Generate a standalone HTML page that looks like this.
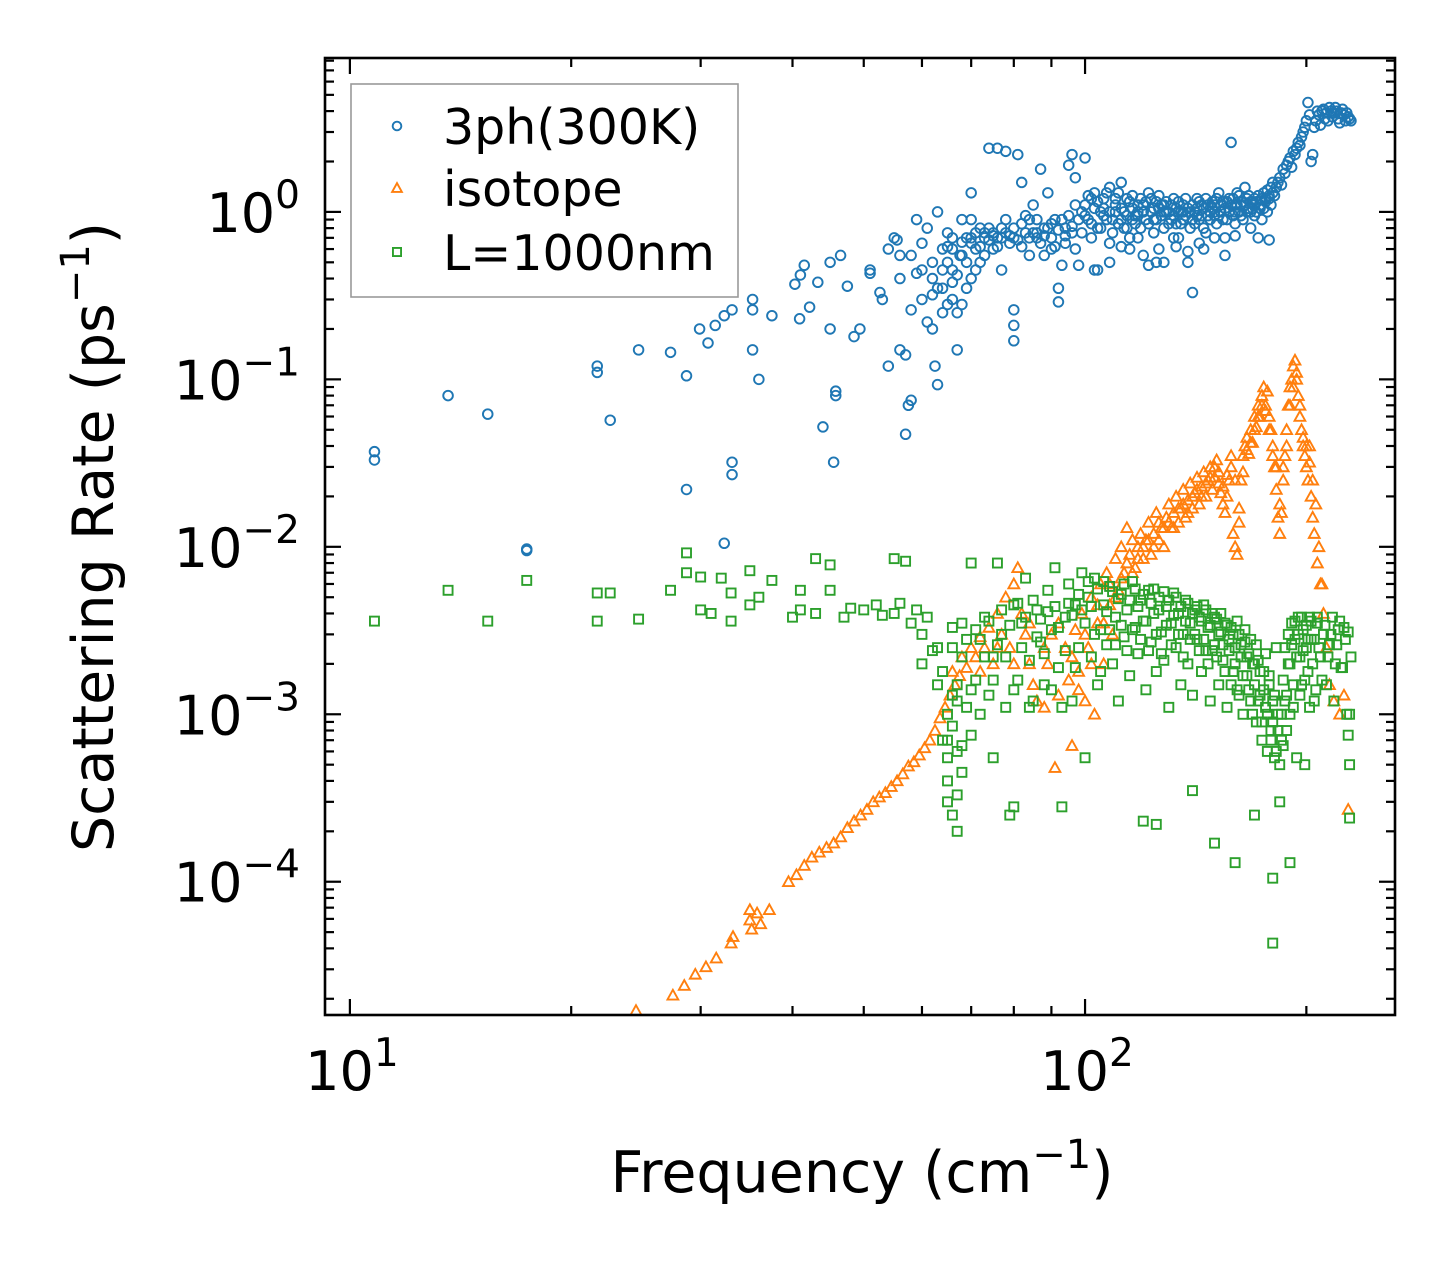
<!DOCTYPE html>
<html><head><meta charset="utf-8"><style>
html,body{margin:0;padding:0;background:#fff;}
svg{display:block;font-family:"DejaVu Sans","Liberation Sans",sans-serif;}
</style></head><body>
<svg id="chart" width="1455" height="1265" viewBox="0 0 1455 1265">
<rect x="0" y="0" width="1455" height="1265" fill="#fff"/>
<g id="marks"></g>
<g id="axes"></g>
</svg>
<script>
const xDomain=[9.25,264];
const yDomain=[1.6e-5,8.3];
const xTickDecades=[1,2];
const yTickDecades=[0,-1,-2,-3,-4];
const threeph=[[10.8,0.037],[10.8,0.033],[13.6,0.08],[15.4,0.062],[17.4,0.0097],[17.4,0.0095],[21.7,0.12],[21.7,0.11],[22.6,0.057],[24.7,0.15],[27.3,0.145],[28.7,0.105],[28.7,0.022],[29.9,0.2],[30.7,0.165],[31.4,0.21],[32.3,0.24],[33.1,0.26],[33.1,0.032],[33.1,0.027],[32.3,0.0105],[35.3,0.3],[35.3,0.26],[35.3,0.15],[36,0.1],[37.5,0.24],[40.3,0.37],[40.9,0.23],[41.5,0.48],[42.2,0.27],[41,0.42],[43.3,0.38],[44,0.052],[45,0.5],[45,0.2],[45.8,0.085],[45.8,0.08],[45.5,0.032],[46.5,0.55],[47.5,0.36],[48.5,0.18],[49.4,0.2],[51,0.43],[51,0.45],[52.6,0.33],[53,0.3],[54,0.6],[54,0.12],[55,0.7],[55.5,0.68],[56,0.55],[56,0.15],[57,0.14],[57.5,0.07],[57,0.047],[58,0.075],[58,0.26],[59,0.43],[59,0.9],[60,0.65],[60,0.3],[61,0.8],[61,0.22],[62,0.2],[62,0.5],[62.5,0.12],[63,0.093],[63,1.0],[64,0.6],[64,0.35],[65,0.28],[65,0.75],[66,0.45],[67,0.25],[67,0.15],[67.6,0.55],[68,0.9],[69,0.35],[70,0.7],[70,1.3],[71,0.6],[72,0.5],[72,0.8],[73,0.75],[74,2.4],[75,0.6],[76,2.4],[77,0.45],[78,0.9],[78,2.3],[80,0.7],[80,0.26],[80,0.21],[80,0.17],[81,2.2],[82,1.5],[83,0.75],[84,0.55],[85,1.1],[86,0.7],[87,1.8],[88,0.55],[89,1.3],[90,0.6],[91,0.9],[92,0.35],[92,0.29],[93,0.48],[94,0.8],[95,1.9],[96,2.2],[97,1.6],[98,0.48],[99,1.0],[100,2.1],[102,0.7],[104,0.45],[106,1.2],[108,0.65],[110,1.0],[112,1.5],[114,0.8],[116,0.9],[118,1.1],[120,0.55],[122,1.3],[124,0.9],[126,0.6],[128,1.1],[130,0.85],[132,1.2],[134,0.7],[136,1.0],[138,0.5],[140,0.33],[140,0.9],[142,1.2],[145,0.8],[148,1.0],[150,0.95],[152,1.3],[155,0.7],[158,2.6],[160,1.1],[162,1.0],[165,1.4],[168,1.0],[170,0.95],[172,0.7],[175,1.05],[178,1.2],[180,1.3],[183,1.5],[186,1.8],[189,2.0],[192,2.3],[195,2.6],[198,3.0],[200,3.5],[201,4.5],[203,2.0],[205,3.2],[208,3.8],[210,4.0],[212,3.6],[215,4.2],[218,3.9],[220,4.0],[222,3.4],[225,3.8],[228,3.7],[230,3.5],
[100,1.1],[101,0.9],[103,1.3],[104,0.8],[105,1.0],[107,0.9],[108,1.4],[109,0.75],[110,1.2],[111,0.85],[113,1.0],[114,1.2],[115,0.7],[116,1.05],[117,0.95],[119,0.8],[120,1.1],[121,0.9],[123,1.0],[124,0.75],[125,1.15],[127,0.95],[128,0.8],[129,1.0],[131,0.9],[132,0.7],[133,1.05],[135,0.85],[136,1.1],[137,0.95],[139,0.8],[141,1.0],[143,0.9],[144,1.1],[146,0.75],[147,0.95],[149,1.05],[151,0.85],[153,1.0],[154,1.15],[156,0.9],[157,1.2],[159,0.95],[161,1.3],[163,1.1],[164,0.9],[166,1.2],[167,1.05],[169,1.15],[171,1.0],[173,1.1],[174,0.9],[176,1.2],[177,1.0],[179,1.1],[181,1.25],[182,1.4],[184,1.6],[185,1.45],[187,1.7],[188,1.9],[190,2.1],[191,1.85],[193,2.2],[194,2.4],[196,2.5],[197,2.8],[199,3.2],[202,3.8],[204,2.2],[206,3.5],[207,4.0],[209,3.3],[211,4.1],[213,3.9],[214,3.5],[216,4.0],[217,3.7],[219,4.2],[221,3.6],[223,3.9],[224,4.1],[226,3.5],[227,3.9],[229,3.6],
[62,0.4],[63,0.35],[64,0.45],[65,0.5],[66,0.38],[66,0.6],[68,0.55],[69,0.7],[70,0.65],[71,0.75],[73,0.7],[74,0.68],[75,0.75],[76,0.7],[77,0.8],[79,0.65],[82,0.85],[84,0.9],[86,0.75],[88,0.8],[90,0.7],[94,0.65],[96,0.75],[97,0.6],[102,1.2],[106,0.95],[112,0.9],[118,0.95],[126,1.05],[134,1.0],[142,0.95],[150,1.1],[160,0.85],[170,1.1],[112,0.62],[118,0.7],[125,0.5],[145,0.6],[155,0.55],[168,0.8],[178,0.68],
[65,0.62],[66,0.7],[67,0.42],[68,0.66],[69,0.5],[70,0.9],[71,0.45],[72,0.62],[73,0.55],[74,0.8],[75,0.72],[76,0.62],[77,0.7],[78,0.75],[79,0.72],[80,0.8],[81,0.68],[82,0.62],[83,0.95],[84,0.7],[85,0.75],[86,0.9],[87,0.65],[88,0.72],[89,0.8],[90,0.85],[91,0.62],[92,0.78],[93,0.9],[94,0.72],[95,0.95],[96,0.82],[97,1.1],[98,0.9],[99,0.75],[66,0.3],[68,0.28],[70,0.4],[64,0.25],[62,0.32],[60,0.45],[58,0.55],[56,0.4],
[100,0.95],[101,1.25],[102,0.85],[103,1.05],[104,1.15],[105,0.8],[106,1.05],[107,1.3],[108,1.0],[109,0.9],[110,1.1],[111,1.3],[112,1.05],[113,0.8],[114,0.95],[115,1.15],[116,1.25],[117,0.85],[118,1.0],[119,1.2],[120,1.0],[121,1.15],[122,0.85],[123,1.2],[124,1.05],[125,0.9],[126,1.25],[127,1.1],[128,1.0],[129,1.15],[130,1.0],[131,1.1],[132,0.95],[133,0.85],[134,1.15],[135,1.0],[136,0.9],[137,1.2],[138,1.05],[139,1.0],[140,1.1],[141,0.85],[142,1.05],[143,1.15],[144,0.95],[145,1.05],[146,1.2],[147,1.1],[148,0.9],[149,1.15],[150,1.0],[151,1.2],[152,0.95],[153,1.1],[154,0.9],[155,1.05],[156,1.15],[157,1.0],[158,1.1],[159,1.2],[160,1.0],[161,1.1],[162,1.25],[163,0.95],[164,1.15],[165,1.1],[166,1.0],[167,1.25],[168,1.15],[169,1.05],[170,1.2],[171,1.15],[172,1.25],[173,1.05],[174,1.2],[175,1.3],[176,1.15],[177,1.35],[178,1.25],[179,1.4],[180,1.5],[103,0.45],[108,0.5],[115,0.6],[122,0.48],[128,0.5],[133,0.62],[138,0.58],[143,0.65],[150,0.7],[160,0.72]];
const isotope=[[24.5,1.7e-5],[27.5,2.1e-5],[28.5,2.4e-5],[29.5,2.8e-5],[30.5,3.1e-5],[31.5,3.5e-5],[33,4.3e-5],[33.2,4.7e-5],[35,5.9e-5],[35.2,5.2e-5],[35.8,6.5e-5],[36.2,5.6e-5],[37.2,6.8e-5],[35,6.8e-5],[39.5,1.0e-4],[40.5,1.1e-4],[41.5,1.25e-4],[42.5,1.4e-4],[43.5,1.5e-4],[44.5,1.6e-4],[45.5,1.7e-4],[46.5,1.85e-4],[47.5,2.1e-4],[48.5,2.3e-4],[49.5,2.5e-4],[50.5,2.7e-4],[51.5,3.0e-4],[52.5,3.2e-4],[53.5,3.4e-4],[54.5,3.7e-4],[55.5,4.0e-4],[56.5,4.4e-4],[57.5,4.9e-4],[58.5,5.2e-4],[59.5,5.7e-4],[60.5,6.3e-4],[61.5,7e-4],[62.5,8e-4],[63.5,9.5e-4],[64.5,1.1e-3],[65.5,1.3e-3],[66.5,1.5e-3],[66,1.8e-3],[67.5,1.7e-3],[68,2.2e-3],[69,1.9e-3],[70,2.5e-3],[71,2.2e-3],[72,2.9e-3],[73,2.5e-3],[74,3.3e-3],[75,2.0e-3],[76,4e-3],[77,3e-3],[78,5e-3],[79,2.5e-3],[80,6e-3],[81,7.5e-3],[82,4e-3],[83,3e-3],[84,2e-3],[85,1.5e-3],[86,1.2e-3],[88,1.1e-3],[89,2e-3],[90,3e-3],[91,4.8e-4],[92,1.3e-3],[94,2.5e-3],[95,1.6e-3],[96,6.5e-4],[97,3.2e-3],[98,1.8e-3],[99,4e-3],[100,1.2e-3],[101,2.5e-3],[102,5e-3],[103,1.0e-3],[104,3.5e-3],[105,6e-3],[106,2e-3],[107,7e-3],[108,4.5e-3],[109,3e-3],[110,8.5e-3],[111,5.5e-3],[112,1e-2],[113,7e-3],[114,1.3e-2],[115,9e-3],[116,1.1e-2],[117,7.5e-3],[118,1.0e-2],[119,1.2e-2],[120,8.5e-3],[121,1.1e-2],[122,1.4e-2],[123,9e-3],[124,1.2e-2],[125,1.6e-2],[126,1.1e-2],[127,1.3e-2],[128,1.0e-2],[129,1.5e-2],[130,1.8e-2],[131,1.3e-2],[132,1.6e-2],[133,2.0e-2],[134,1.4e-2],[135,1.7e-2],[136,2.2e-2],[137,1.5e-2],[138,1.9e-2],[139,2.4e-2],[140,1.7e-2],[141,2.1e-2],[142,2.6e-2],[143,1.8e-2],[144,2.3e-2],[145,2.8e-2],[146,2.0e-2],[147,2.5e-2],[148,3.0e-2],[149,2.2e-2],[150,2.6e-2],[151,3.3e-2],[152,2.4e-2],[153,2.1e-2],[154,1.8e-2],[155,1.6e-2],[156,2.0e-2],[157,2.5e-2],[158,3.0e-2],[159,1.2e-2],[160,1.0e-2],[161,9e-3],[162,1.4e-2],[163,2.5e-2],[164,3.5e-2],[165,4.0e-2],[166,4.5e-2],[167,3.6e-2],[168,5e-2],[169,4.2e-2],[170,6e-2],[171,5.2e-2],[172,7e-2],[173,6e-2],[174,8e-2],[175,9e-2],[176,7e-2],[177,8.5e-2],[178,6e-2],[179,5e-2],[180,4e-2],[181,3e-2],[182,2.2e-2],[183,1.5e-2],[184,1.2e-2],[185,1.6e-2],[186,2.5e-2],[187,3.5e-2],[188,5e-2],[189,7e-2],[190,9e-2],[191,0.1],[192,0.12],[193,0.13],[194,0.1],[195,0.08],[196,0.06],[197,0.05],[198,0.04],[199,0.035],[200,0.03],[201,0.025],[202,0.04],[203,0.02],[204,0.015],[205,0.012],[207,0.008],[209,0.006],[211,0.004],[213,0.0025],[215,0.0015],[218,0.0012],[222,0.001],[225,1.3e-3],[228,2.7e-4],
[100,3e-3],[102,2e-3],[104,4.5e-3],[106,3.5e-3],[108,6e-3],[110,5e-3],[112,6.5e-3],[114,8e-3],[116,7e-3],[118,8.5e-3],[120,1.0e-2],[122,1.1e-2],[124,1.0e-2],[126,1.4e-2],[128,1.3e-2],[130,1.4e-2],[132,1.3e-2],[134,1.7e-2],[136,1.8e-2],[138,1.6e-2],[140,2.0e-2],[142,2.2e-2],[144,2.0e-2],[146,2.4e-2],[148,2.6e-2],[150,3.0e-2],[152,2.8e-2],[154,2.3e-2],[156,2.7e-2],[158,3.5e-2],[160,2.5e-2],[162,1.7e-2],[164,2.8e-2],[166,3.8e-2],[168,4.2e-2],[170,5e-2],[172,6e-2],[174,7e-2],[176,6.5e-2],[178,5e-2],[180,3.5e-2],[182,3e-2],[184,1.8e-2],[186,3e-2],[188,4e-2],[190,7e-2],[192,0.09],[194,0.11],[196,0.07],[198,0.045],[200,0.04],[202,0.032],[204,0.025],[206,0.018],[208,0.01],[210,0.006],[72,1.8e-3],[76,2.5e-3],[80,2e-3],[84,3.5e-3],[88,2.5e-3],[92,3.5e-3],[96,2.2e-3],[98,1.4e-3]];
const boundary=[[10.8,3.6e-3],[13.6,5.5e-3],[15.4,3.6e-3],[17.4,6.3e-3],[21.7,5.3e-3],[21.7,3.6e-3],[22.6,5.3e-3],[24.7,3.7e-3],[27.3,5.5e-3],[28.7,9.2e-3],[28.7,7e-3],[30,6.6e-3],[30,4.2e-3],[31,4e-3],[32,6.5e-3],[33,5.3e-3],[33,3.6e-3],[35,7.2e-3],[35,4.5e-3],[36,5e-3],[37.5,6.3e-3],[40,3.8e-3],[41,5.5e-3],[41,4.2e-3],[43,8.5e-3],[43,4e-3],[45,5.5e-3],[45,7.8e-3],[47,3.8e-3],[48,4.3e-3],[50,4.2e-3],[52,4.5e-3],[53,3.9e-3],[55,4e-3],[55,8.5e-3],[56,4.6e-3],[57,8.2e-3],[58,3.5e-3],[59,4.2e-3],[60,3e-3],[60,2e-3],[61,3.8e-3],[62,2.4e-3],[63,1.5e-3],[63,2.5e-3],[64,1.8e-3],[65,1e-3],[65,7e-4],[65,4e-4],[66,1.3e-3],[66,3.3e-3],[67,3.3e-4],[67,2e-4],[67,1.2e-3],[68,6.5e-4],[68,2.2e-3],[69,1.1e-3],[70,7.5e-4],[70,8e-3],[71,1.6e-3],[72,2.8e-3],[73,3.8e-3],[74,1.3e-3],[75,5.5e-4],[75,2.2e-3],[76,8e-3],[77,3e-3],[78,1.1e-3],[79,2.5e-4],[80,2.8e-4],[80,4.5e-3],[81,1.6e-3],[82,3.5e-3],[83,6.5e-3],[84,2.1e-3],[85,1.2e-3],[86,4.2e-3],[87,2.7e-3],[88,1.5e-3],[89,5.5e-3],[90,3.2e-3],[91,7.5e-3],[92,1.9e-3],[93,2.8e-4],[94,3.8e-3],[95,6e-3],[96,1.2e-3],[97,4.5e-3],[98,2.5e-3],[99,7e-3],[100,5.5e-4],[100,3.5e-3],[101,5e-3],[102,2.2e-3],[103,6.5e-3],[104,1.5e-3],[105,3.2e-3],[106,4.5e-3],[107,2.6e-3],[108,5.8e-3],[109,2e-3],[110,3.8e-3],[111,1.2e-3],[112,5.2e-3],[113,2.9e-3],[114,4.2e-3],[115,1.7e-3],[116,6.2e-3],[117,3.3e-3],[118,2.3e-3],[119,4.8e-3],[120,2.3e-4],[120,3.6e-3],[121,1.4e-3],[122,5.5e-3],[123,2.7e-3],[124,4e-3],[125,2.2e-4],[125,1.8e-3],[126,5e-3],[127,3.1e-3],[128,2.1e-3],[129,4.4e-3],[130,1.1e-3],[131,3.5e-3],[132,5.3e-3],[133,2.5e-3],[134,4e-3],[135,1.5e-3],[136,3e-3],[137,4.8e-3],[138,2e-3],[139,3.5e-3],[140,3.5e-4],[140,1.3e-3],[141,4.2e-3],[142,2.8e-3],[143,3.8e-3],[144,1.8e-3],[145,4.5e-3],[146,2.4e-3],[147,3.3e-3],[148,1.2e-3],[149,4e-3],[150,1.7e-4],[150,2.6e-3],[151,3.7e-3],[152,1.5e-3],[153,3.1e-3],[154,2.1e-3],[155,3.5e-3],[156,1.1e-3],[157,2.8e-3],[158,3.3e-3],[159,1.8e-3],[160,1.3e-4],[160,2.5e-3],[161,1.4e-3],[162,3e-3],[163,2.2e-3],[164,1e-3],[165,2.7e-3],[166,1.7e-3],[167,2.3e-3],[168,1.2e-3],[169,2e-3],[170,2.5e-4],[170,1.5e-3],[171,9e-4],[172,2.1e-3],[173,1.3e-3],[174,7e-4],[175,1.8e-3],[176,1.1e-3],[177,6e-4],[178,1.5e-3],[179,8e-4],[180,1.05e-4],[180,4.3e-5],[180,1.2e-3],[181,5.5e-4],[182,2.5e-3],[183,1e-3],[184,3e-4],[185,7e-4],[186,1.6e-3],[187,2.5e-3],[188,1.3e-3],[189,3e-3],[190,1.3e-4],[190,2e-3],[191,3.5e-3],[192,1.1e-3],[193,2.8e-3],[194,5.5e-4],[195,3.8e-3],[196,2.2e-3],[197,1.5e-3],[198,3.2e-3],[199,5e-4],[200,2.5e-3],[201,1.8e-3],[202,3.8e-3],[203,2.8e-3],[205,1.2e-3],[207,3.5e-3],[209,2.2e-3],[211,3e-3],[213,1.5e-3],[215,2.6e-3],[217,3.8e-3],[219,2e-3],[221,3.2e-3],[223,1.9e-3],[225,3.3e-3],[227,1e-3],[228,7.5e-4],[229,2.4e-4],[229,5e-4],
[66,2.5e-3],[67,1.5e-3],[68,3.5e-3],[69,2.8e-3],[70,1.4e-3],[71,3.2e-3],[72,1.0e-3],[73,2.2e-3],[74,3.6e-3],[75,1.6e-3],[76,2.6e-3],[77,4.2e-3],[78,2.2e-3],[79,3.4e-3],[80,1.4e-3],[81,4.6e-3],[82,2.5e-3],[83,3.8e-3],[84,1.1e-3],[85,4.8e-3],[86,2.9e-3],[87,3.7e-3],[88,2.3e-3],[89,4.1e-3],[90,1.4e-3],[91,4.4e-3],[92,3.3e-3],[93,1.1e-3],[94,2.4e-3],[95,4.6e-3],[96,3.9e-3],[97,1.9e-3],[98,5.2e-3],[99,4.2e-3],[101,6.2e-3],[102,4.4e-3],[103,3.0e-3],[104,5.6e-3],[105,1.8e-3],[106,6.2e-3],[107,4.1e-3],[108,3.2e-3],[109,5.4e-3],[110,2.6e-3],[111,4.9e-3],[112,3.4e-3],[113,6.0e-3],[114,2.4e-3],[115,4.8e-3],[116,3.2e-3],[117,5.6e-3],[118,4.4e-3],[119,2.8e-3],[120,5.2e-3],[121,3.6e-3],[122,2.4e-3],[123,4.6e-3],[124,5.6e-3],[125,3.0e-3],[126,4.2e-3],[127,2.3e-3],[128,5.4e-3],[129,3.4e-3],[130,4.8e-3],[131,2.6e-3],[132,3.9e-3],[133,5.0e-3],[134,3.0e-3],[135,4.4e-3],[136,2.2e-3],[137,3.6e-3],[138,4.6e-3],[139,2.8e-3],[140,4.0e-3],[141,3.0e-3],[142,4.4e-3],[143,2.4e-3],[144,3.6e-3],[145,2.8e-3],[146,4.2e-3],[147,2.0e-3],[148,3.4e-3],[149,2.4e-3],[150,3.8e-3],[151,2.2e-3],[152,3.0e-3],[153,4.0e-3],[154,2.6e-3],[155,1.8e-3],[156,3.4e-3],[157,2.4e-3],[158,1.5e-3],[159,3.0e-3],[160,2.0e-3],[161,3.6e-3],[162,1.3e-3],[163,2.6e-3],[164,1.7e-3],[165,3.2e-3],[166,2.2e-3],[167,1.4e-3],[168,2.8e-3],[169,1.0e-3],[170,2.0e-3],[171,2.6e-3],[172,1.2e-3],[173,1.8e-3],[174,9e-4],[175,1.4e-3],[176,2.3e-3],[177,1.0e-3],[178,1.7e-3],[179,7e-4],[180,9e-4],[181,1.3e-3],[182,6e-4],[183,8e-4],[184,5e-4],[185,1.0e-3],[186,6.5e-4],[187,1.2e-3],[188,8e-4],[189,2.0e-3],[190,1.0e-3],[191,2.6e-3],[192,1.5e-3],[193,3.6e-3],[194,2.2e-3],[195,3.0e-3],[196,1.3e-3],[197,3.8e-3],[198,2.4e-3],[199,1.6e-3],[200,3.4e-3],[201,2.8e-3],[202,1.1e-3],[203,3.6e-3],[204,2.0e-3],[205,2.8e-3],[206,1.4e-3],[207,3.8e-3],[208,2.5e-3],[210,1.6e-3],[212,3.4e-3],[214,2.2e-3],[216,3.0e-3],[218,1.2e-3],[220,2.6e-3],[222,3.6e-3],[224,1.9e-3],[226,2.8e-3],[228,3.1e-3],[229,1.0e-3],[230,2.2e-3],[64,7e-4],[65,5.5e-4],[66,8.5e-4],[67,6e-4],[68,4.5e-4],[65,3e-4],[66,2.5e-4]];

const X0=325,X1=1395,Y0=58,Y1=1015;
const lx=[Math.log10(xDomain[0]),Math.log10(xDomain[1])];
const ly=[Math.log10(yDomain[0]),Math.log10(yDomain[1])];
function sx(v){return X0+(Math.log10(v)-lx[0])/(lx[1]-lx[0])*(X1-X0);}
function sy(v){return Y1-(Math.log10(v)-ly[0])/(ly[1]-ly[0])*(Y1-Y0);}
const NS='http://www.w3.org/2000/svg';
function mk(tag,attrs,parent){const e=document.createElementNS(NS,tag);for(const k in attrs)e.setAttribute(k,attrs[k]);parent.appendChild(e);return e;}
const marks=document.getElementById('marks');
const axes=document.getElementById('axes');
const clip=mk('clipPath',{id:'pc'},document.getElementById('chart'));
mk('rect',{x:X0,y:Y0,width:X1-X0,height:Y1-Y0},clip);
marks.setAttribute('clip-path','url(#pc)');

function drawMarker(kind,cx,cy,parent,scale){
  let e;
  if(kind==='circle'){e=mk('circle',{cx:cx,cy:cy,r:4.8*scale,fill:'none',stroke:'#1f77b4','stroke-width':1.9},parent);}
  else if(kind==='tri'){const s=5.4*scale;e=mk('polygon',{points:`${cx},${cy-s} ${cx-s},${cy+s*0.8} ${cx+s},${cy+s*0.8}`,fill:'none',stroke:'#ff7f0e','stroke-width':1.9},parent);}
  else {const s=4.5*scale;e=mk('rect',{x:cx-s,y:cy-s,width:2*s,height:2*s,fill:'none',stroke:'#2ca02c','stroke-width':1.9},parent);}
  return e;
}
const gB=mk('g',{},marks);
threeph.forEach(p=>{const e=drawMarker('circle',sx(p[0]),sy(p[1]),gB,1);

});
const gO=mk('g',{},marks);
isotope.forEach(p=>{const e=drawMarker('tri',sx(p[0]),sy(p[1]),gO,1);

});
const gG=mk('g',{},marks);
boundary.forEach(p=>{const e=drawMarker('sq',sx(p[0]),sy(p[1]),gG,1);

});

const fr=mk('rect',{x:X0,y:Y0,width:X1-X0,height:Y1-Y0,fill:'none',stroke:'#000','stroke-width':2.6},axes);


for(let d=0;d<=2;d++){for(let m=1;m<=9;m++){const v=m*Math.pow(10,d);if(v<xDomain[0]||v>xDomain[1])continue;const x=sx(v);const L=m===1?16:9;
mk('line',{x1:x,y1:Y1,x2:x,y2:Y1-L,stroke:'#000','stroke-width':2.2},axes);
mk('line',{x1:x,y1:Y0,x2:x,y2:Y0+L,stroke:'#000','stroke-width':2.2},axes);}}
for(let d=-5;d<=0;d++){for(let m=1;m<=9;m++){const v=m*Math.pow(10,d);if(v<yDomain[0]||v>yDomain[1])continue;const y=sy(v);const L=m===1?16:9;
mk('line',{x1:X0,y1:y,x2:X0+L,y2:y,stroke:'#000','stroke-width':2.2},axes);
mk('line',{x1:X1,y1:y,x2:X1-L,y2:y,stroke:'#000','stroke-width':2.2},axes);}}
xTickDecades.forEach(d=>{const t=mk('text',{x:sx(Math.pow(10,d))+2,y:1090,'font-size':54,'text-anchor':'middle'},axes);


t.innerHTML=`10<tspan dy="-24" font-size="39">${d}</tspan>`;});
yTickDecades.forEach(d=>{const t=mk('text',{x:300,y:sy(Math.pow(10,d))+20,'font-size':54,'text-anchor':'end'},axes);


const s=d===0?'0':'\u2212'+(-d);
t.innerHTML=`10<tspan dy="-24" font-size="39">${s}</tspan>`;});
const xt=mk('text',{x:862,y:1192,'font-size':57,'text-anchor':'middle'},axes);


xt.innerHTML='Frequency (cm<tspan dy="-24" font-size="40">\u22121</tspan><tspan dy="24">)</tspan>';
const yt=mk('text',{x:0,y:0,'font-size':57,'text-anchor':'middle',transform:'translate(113,537) rotate(-90)'},axes);


yt.innerHTML='Scattering Rate (ps<tspan dy="-24" font-size="40">\u22121</tspan><tspan dy="24">)</tspan>';
const lg=mk('g',{},axes);


mk('rect',{x:351,y:84,width:387,height:213,fill:'#fff','fill-opacity':0.8,stroke:'#999','stroke-width':1.6},lg);
const labels=['3ph(300K)','isotope','L=1000nm'];const kinds=['circle','tri','sq'];const ys=[126,188,252];
labels.forEach((s,i)=>{const g=mk('g',{},lg);


drawMarker(kinds[i],397,ys[i],g,0.9);
const t=mk('text',{x:443,y:ys[i]+18,'font-size':49},g);t.textContent=s;});
</script>
</body></html>
